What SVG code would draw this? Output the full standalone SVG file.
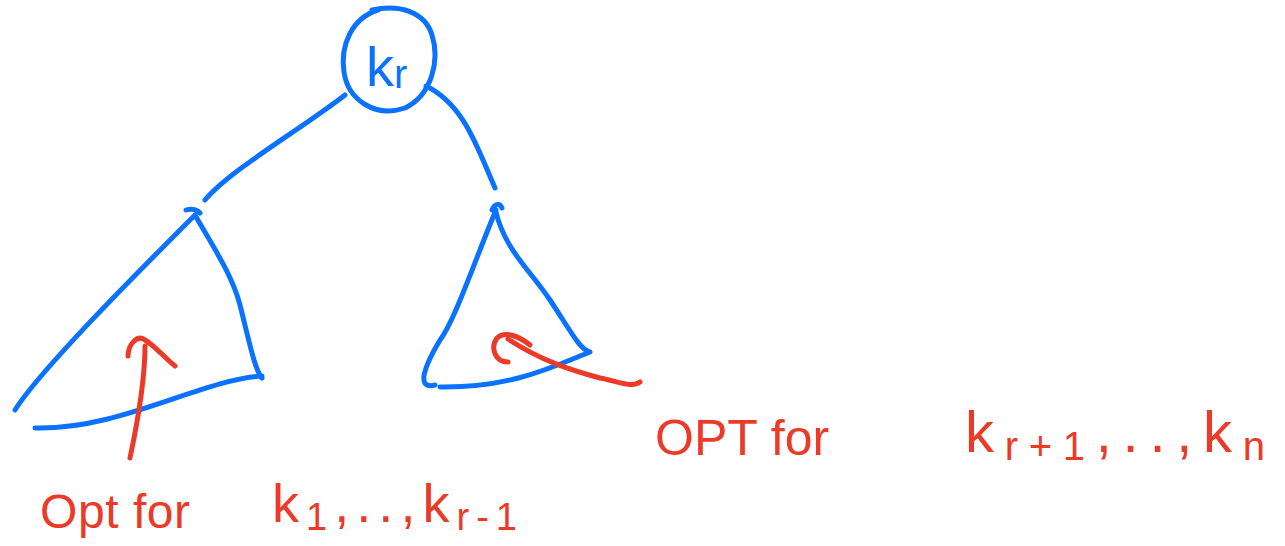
<svg xmlns="http://www.w3.org/2000/svg" width="1285" height="546" viewBox="0 0 1285 546">
<style>
.b{fill:none;stroke:#0a72ff;stroke-width:5;stroke-linecap:round;stroke-linejoin:round}
.r{fill:none;stroke:#ec3a28;stroke-width:5;stroke-linecap:round;stroke-linejoin:round}
.t{font-family:"Liberation Sans",Arial,sans-serif;fill:#ec3a28}
.tb{font-family:"Liberation Sans",Arial,sans-serif;fill:#0a72ff}
</style>
<rect width="1285" height="546" fill="#fff"/>
<g id="root">
<path class="b" d="M372,10 C400,4 425,12 432,35 C440,60 432,95 405,108 C375,118 348,100 344,72 C340,45 352,18 378,10"/>
<text class="tb" x="366" y="86" font-size="56">k<tspan font-size="40" dy="2">r</tspan></text>
</g>
<g id="left-subtree">
<path class="b" d="M186,210 C192,208 198,210 200,213 M195,215 C140,270 40,370 15,410 M195,215 C215,250 232,275 240,305 C250,345 255,370 262,378 M262,376 C200,380 120,430 35,428"/>
</g>
<g id="right-subtree">
<path class="b" d="M492,210 C495,203 500,203 502,208 M496,210 C475,260 455,320 440,340 C425,365 415,390 435,385 M440,387 C510,388 550,368 590,352 M496,212 C505,250 530,270 550,300 C570,330 580,350 590,352"/>
</g>
<g id="connectors">
<path class="b" d="M345,95 C300,130 230,170 205,200"/>
<path class="b" d="M426,86 C465,105 478,150 495,188"/>
<path class="r" d="M130,458 C138,420 145,380 145,346"/>
<path class="r" d="M128,356 C128,345 137,334 145,340 C155,346 167,360 175,366"/>
<path class="r" d="M640,382 C632,388 620,382 600,378 C570,370 540,360 508,339"/>
<path class="r" d="M530,345 C520,337 505,330 497,338 C490,348 495,362 508,362"/>
</g>
<g id="label-left">
<text class="t" x="40" y="528" font-size="48" textLength="150" lengthAdjust="spacing">Opt for</text>
<text class="t" x="272" y="522" font-size="54" textLength="245" lengthAdjust="spacing">k<tspan font-size="38" dy="8">1</tspan><tspan dy="-8">,..,k</tspan><tspan font-size="38" dy="8">r-1</tspan></text>
</g>
<g id="label-right">
<text class="t" x="655" y="455" font-size="50">OPT for</text>
<text class="t" x="965" y="452" font-size="58" textLength="300" lengthAdjust="spacing">k<tspan font-size="40" dy="8">r+1</tspan><tspan dy="-8">,..,k</tspan><tspan font-size="40" dy="8">n</tspan></text>
</g>
</svg>
